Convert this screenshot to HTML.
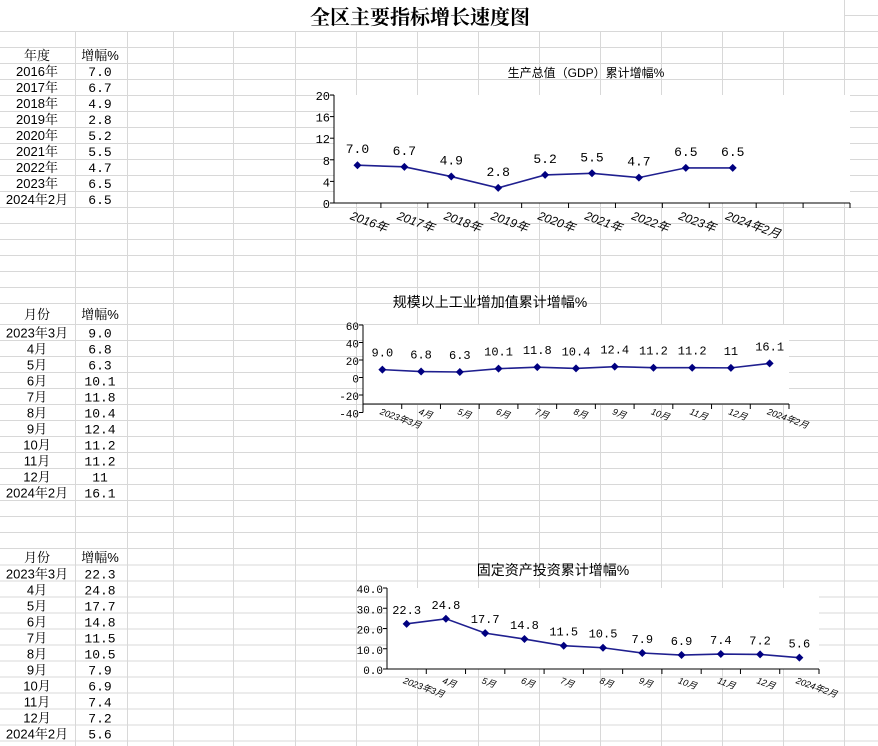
<!DOCTYPE html>
<html><head><meta charset="utf-8"><style>
body{margin:0;width:878px;height:746px;overflow:hidden;background:#fff;font-family:"Liberation Sans","Noto Sans CJK SC",sans-serif}
svg{position:absolute;left:0;top:0}
</style></head><body>
<svg id="s" width="878" height="746">
<g id="grid"></g>
<text x="420" y="24" text-anchor="middle" font-family="'Liberation Serif','Noto Serif CJK SC',serif" font-weight="bold" font-size="20">全区主要指标增长速度图</text>
<g id="tables"></g>
<g id="charts"></g>
</svg>
<script>
const gdpCats=["2016年","2017年","2018年","2019年","2020年","2021年","2022年","2023年","2024年2月"];
const gdpVals=[7.0,6.7,4.9,2.8,5.2,5.5,4.7,6.5,6.5];
const gdpLabels=["7.0","6.7","4.9","2.8","5.2","5.5","4.7","6.5","6.5"];
const monCats=["2023年3月","4月","5月","6月","7月","8月","9月","10月","11月","12月","2024年2月"];
const indVals=[9.0,6.8,6.3,10.1,11.8,10.4,12.4,11.2,11.2,11,16.1];
const indLabels=["9.0","6.8","6.3","10.1","11.8","10.4","12.4","11.2","11.2","11","16.1"];
const invVals=[22.3,24.8,17.7,14.8,11.5,10.5,7.9,6.9,7.4,7.2,5.6];
const invLabels=["22.3","24.8","17.7","14.8","11.5","10.5","7.9","6.9","7.4","7.2","5.6"];
const gdpTicks=["0","4","8","12","16","20"];
const indTicks=["-40","-20","0","20","40","60"];
const invTicks=["0.0","10.0","20.0","30.0","40.0"];

const NS="http://www.w3.org/2000/svg";
function mk(p,t,a){const e=document.createElementNS(NS,t);for(const k in a)e.setAttribute(k,a[k]);p.appendChild(e);return e;}
const grid=document.getElementById('grid');
const rows=[];for(let k=0;k<=17;k++)rows.push(31.5+16*k);
for(let k=0;k<=14;k++)rows.push(324.5+16*k);
for(let k=0;k<=11;k++)rows.push(565+16*k);
const cols=[75,127,173,233,295,356,417,478,539,600,661,722,783,844];
rows.forEach(y=>{const l=mk(grid,'line',{x1:0,x2:878,y1:y,y2:y,stroke:'#d8d8d8','stroke-width':1});

});
cols.forEach(x=>{const l=mk(grid,'line',{x1:x+.5,x2:x+.5,y1:31,y2:746,stroke:'#d8d8d8','stroke-width':1});

});
mk(grid,'line',{x1:844.5,x2:844.5,y1:0,y2:31,stroke:'#d8d8d8'});
mk(grid,'line',{x1:844,x2:878,y1:15.5,y2:15.5,stroke:'#d8d8d8'});

const tb=document.getElementById('tables');
function cell(x,y,t,name,mono){const e=mk(tb,'text',{x:x,y:y,'text-anchor':'middle','font-size':13,'font-family':mono?"'Liberation Mono',monospace":"'Liberation Sans','Noto Serif CJK SC',serif"});e.textContent=t;

}
function table(top,hdr,cats,labels,rowH0){
 cell(37,top,hdr,'table-header-category');cell(100,top,'增幅%','table-header-growth');
 cats.forEach((c,i)=>{cell(37,top+rowH0+16*i,c,'table-category-cell');cell(100,top+rowH0+16*i,labels[i],'table-value-cell',true);});
}
table(60,'年度',gdpCats,gdpLabels,16);
table(319,'月份',monCats,indLabels,18.5);
table(562,'月份',monCats,invLabels,16.5);

const ch=document.getElementById('charts');
function chart(o){
 const g=mk(ch,'g',{});
 
 
 mk(g,'rect',{x:o.x0,y:o.yTop,width:o.x1-o.x0,height:o.axisY-o.yTop,fill:'#fff'});
 const t=mk(g,'text',{x:o.tx,y:o.ty,'text-anchor':'middle','font-size':o.tfs});t.textContent=o.title;
 
 
 const ys=v=>o.yPix0+(v-o.vmin)/(o.vmax-o.vmin)*(o.yPix1-o.yPix0);
 const slot=(o.x1-o.x0)/o.nSlots;
 const xs=i=>o.x0+slot*(i+0.5);
 mk(g,'line',{x1:o.x0,x2:o.x0,y1:o.yPix1,y2:Math.max(o.yPix0,o.axisY),stroke:'#000'});
 mk(g,'line',{x1:o.x0,x2:o.x1,y1:o.axisY,y2:o.axisY,stroke:'#000'});
 o.ticks.forEach(tk=>{const v=parseFloat(tk),y=ys(v);
  mk(g,'line',{x1:o.x0-4,x2:o.x0,y1:y,y2:y,stroke:'#000'});
  const e=mk(g,'text',{x:o.x0-4,y:y+5,'text-anchor':'end','font-size':o.fs,'font-family':"'Liberation Mono',monospace"});e.textContent=tk;
  
  });
 for(let i=1;i<=o.nSlots;i++){const x=o.x0+slot*i;mk(g,'line',{x1:x,x2:x,y1:o.axisY,y2:o.axisY+5,stroke:'#000'});}
 let d='';o.vals.forEach((v,i)=>{d+=(i?'L':'M')+xs(i)+' '+ys(v);});
 const p=mk(g,'path',{d:d,fill:'none',stroke:'#1f1f8f','stroke-width':1.6});
 
 
 o.vals.forEach((v,i)=>{const x=xs(i),y=ys(v);
  const m=mk(g,'path',{d:`M${x} ${y-4}L${x+4} ${y}L${x} ${y+4}L${x-4} ${y}Z`,fill:'#000080'});
  
  
  const l=mk(g,'text',{x:x,y:y-o.lblOff,'text-anchor':'middle','font-size':o.lfs,'font-family':"'Liberation Mono',monospace"});l.textContent=o.labels[i];
  
  });
 o.cats.forEach((c,i)=>{const x=xs(i)-o.cdx,y=o.axisY+o.cdy;
  const e=mk(g,'text',{x:x,y:y,'font-size':o.cfs,'font-style':'italic',transform:`rotate(20 ${x} ${y})`,'font-family':"'Liberation Sans','Noto Sans CJK SC',sans-serif"});e.textContent=c;
  
  });
}
chart({name:'gdp-chart',title:'生产总值（GDP）累计增幅%',tx:586,ty:77,tfs:12,x0:334,x1:850,yTop:95,axisY:203,yPix0:203,yPix1:95,vmin:0,vmax:20,ticks:gdpTicks,nSlots:11,vals:gdpVals,labels:gdpLabels,cats:gdpCats,fs:12,lfs:13,lblOff:12,cfs:12,cdx:8,cdy:16});
chart({name:'industry-chart',title:'规模以上工业增加值累计增幅%',tx:490,ty:307,tfs:14,x0:363,x1:789,yTop:325,axisY:404,yPix0:412.5,yPix1:325,vmin:-40,vmax:60,ticks:indTicks,nSlots:11,vals:indVals,labels:indLabels,cats:monCats,fs:11,lfs:12,lblOff:13,cfs:9,cdx:3,cdy:10});
chart({name:'investment-chart',title:'固定资产投资累计增幅%',tx:553,ty:575,tfs:14,x0:387,x1:819,yTop:588,axisY:669,yPix0:669,yPix1:588,vmin:0,vmax:40,ticks:invTicks,nSlots:11,vals:invVals,labels:invLabels,cats:monCats,fs:11,lfs:12,lblOff:10,cfs:9,cdx:4,cdy:14});
</script>
</body></html>
